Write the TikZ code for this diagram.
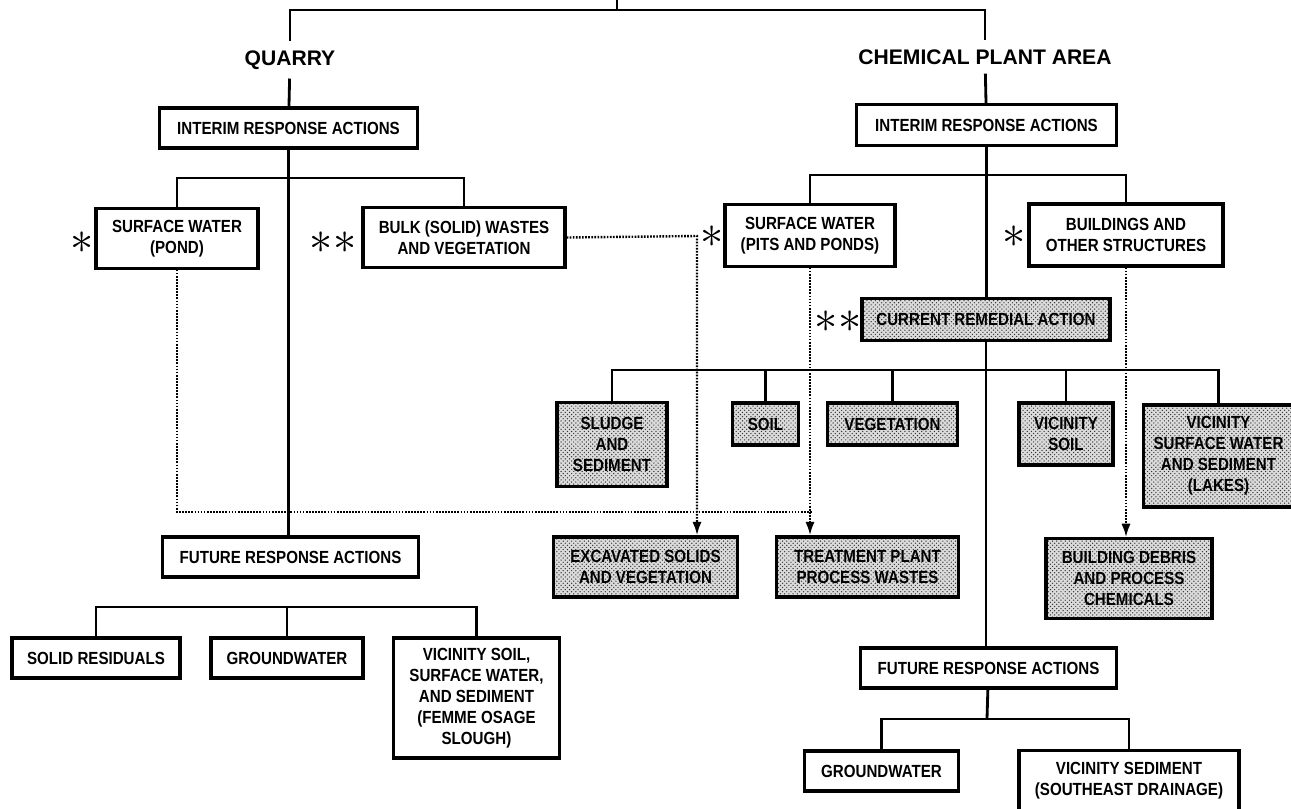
\documentclass[tikz,border=0pt]{standalone}
\usepackage{fontspec}
\setmainfont{Liberation Sans}[FakeStretch=0.86]
\newfontfamily\titlefont{Liberation Sans}
\usetikzlibrary{arrows.meta,positioning,patterns}

\begin{document}
\begin{tikzpicture}[
x=0.025cm, y=-0.025cm,
box/.style={draw, line width=2.2pt, align=center, inner sep=0pt, font=\bfseries\fontsize{12.5}{15}\selectfont},
shadebox/.style={box, preaction={fill=black!14}, pattern=crosshatch dots, pattern color=black!80},
head/.style={font=\titlefont\bfseries\fontsize{15}{18}\selectfont, inner sep=0.22cm},
star/.style={scale=3.3, inner sep=0pt},
link/.style={line width=2pt},
flow/.style={line width=1.7pt, dash pattern=on 1.2pt off 1pt, -{Latex[length=3.4mm,width=2.3mm]}}
]
\useasboundingbox (0,0) rectangle (1291,809);

% site headings
\node[head] (qtitle) at (290,60) {QUARRY};
\node[head] (ctitle) at (985,57) {CHEMICAL PLANT AREA};
\coordinate (bar) at (617,10);
\coordinate (topend) at (617,-5);

% quarry
\node[box, minimum width=6.43cm, minimum height=1cm] (qira) at (288.5,128) {INTERIM RESPONSE ACTIONS};
\node[box, minimum width=4.05cm, minimum height=1.48cm] (qsw) at (177,238.5) {SURFACE WATER\\(POND)};
\node[box, minimum width=5.05cm, minimum height=1.48cm] (qbulk) at (464,237.5) {BULK (SOLID) WASTES\\AND VEGETATION};
\node[star] (qswstar) at (82,243) {$\ast$};
\node[star] (qbulkstar) at (333,243) {$\ast\ast$};
\node[box, minimum width=6.38cm, minimum height=1cm] (qfra) at (290.5,557) {FUTURE RESPONSE ACTIONS};
\node[box, minimum width=4.2cm, minimum height=1cm] (qsolid) at (96,658) {SOLID RESIDUALS};
\node[box, minimum width=3.8cm, minimum height=1cm] (qgw) at (287,658) {GROUNDWATER};
\node[box, minimum width=4.13cm, minimum height=3cm] (qvic) at (476.5,698) {VICINITY SOIL,\\SURFACE WATER,\\AND SEDIMENT\\(FEMME OSAGE\\SLOUGH)};
\coordinate (qjoin) at (288,178);
\coordinate (qjoin2) at (289,607);

% chemical plant area
\node[box, minimum width=6.48cm, minimum height=1.03cm] (cira) at (986.5,125) {INTERIM RESPONSE ACTIONS};
\node[box, minimum width=4.25cm, minimum height=1.53cm] (csw) at (810,235.5) {SURFACE WATER\\(PITS AND PONDS)};
\node[box, minimum width=4.85cm, minimum height=1.55cm] (cbld) at (1126,235) {BUILDINGS AND\\OTHER STRUCTURES};
\node[star] (cswstar) at (712,237) {$\ast$};
\node[star] (cbldstar) at (1014,237) {$\ast$};
\node[shadebox, minimum width=6.2cm, minimum height=1.03cm] (ccra) at (986,319.5) {CURRENT REMEDIAL ACTION};
\node[star] (ccrastar) at (838,322) {$\ast\ast$};
\node[shadebox, minimum width=2.75cm, minimum height=2.08cm] (sludge) at (612,444.5) {SLUDGE\\AND\\SEDIMENT};
\node[shadebox, minimum width=1.63cm, minimum height=1.05cm] (soil) at (765.5,424) {SOIL};
\node[shadebox, minimum width=3.23cm, minimum height=1.05cm] (veg) at (892.5,424) {VEGETATION};
\node[shadebox, minimum width=2.35cm, minimum height=1.55cm] (vsoil) at (1066,434) {VICINITY\\SOIL};
\node[shadebox, minimum width=3.73cm, minimum height=2.55cm] (vsw) at (1218.5,456) {VICINITY\\SURFACE WATER\\AND SEDIMENT\\(LAKES)};
\node[shadebox, minimum width=4.58cm, minimum height=1.5cm] (excav) at (645.5,567) {EXCAVATED SOLIDS\\AND VEGETATION};
\node[shadebox, minimum width=4.53cm, minimum height=1.5cm] (treat) at (867.5,567) {TREATMENT PLANT\\PROCESS WASTES};
\node[shadebox, minimum width=4.15cm, minimum height=1.98cm] (debris) at (1129,578.5) {BUILDING DEBRIS\\AND PROCESS\\CHEMICALS};
\node[box, minimum width=6.38cm, minimum height=1cm] (cfra) at (988.5,668) {FUTURE RESPONSE ACTIONS};
\node[box, minimum width=3.83cm, minimum height=1cm] (cgw) at (881.5,771) {GROUNDWATER};
\node[box, minimum width=5.5cm, minimum height=1.48cm] (cvsed) at (1129,780.5) {VICINITY SEDIMENT\\(SOUTHEAST DRAINAGE)};
\coordinate (cjoin) at (986,175);
\coordinate (cjoin2) at (986,370);
\coordinate (cjoin3) at (987,719);
\coordinate (bend) at (697,236);
\coordinate (merge) at (812,512);

% solid connectors
\draw[link] (topend) -- (bar);
\draw[link] (qtitle) -- (qtitle |- bar) -- (ctitle |- bar) -- (ctitle);
\draw[link] (qtitle) -- (qira);
\draw[link] (ctitle) -- (cira);
\draw[link] (qira.south) -- (qira.south |- qfra.north);
\draw[link] (qsw) |- (qjoin) -| (qbulk);
\draw[link] (qsolid) |- (qjoin2) -| (qvic);
\draw[link] (qgw) -- (qgw |- qjoin2);
\draw[link] (cira.south) -- (cira.south |- ccra.north);
\draw[link] (csw) |- (cjoin) -| (cbld);
\draw[link] (ccra.south) -- (ccra.south |- cfra.north);
\draw[link] (sludge) |- (cjoin2) -| (vsw);
\draw[link] (soil) -- (soil |- cjoin2);
\draw[link] (veg) -- (veg |- cjoin2);
\draw[link] (vsoil) -- (vsoil |- cjoin2);
\draw[link] (cgw) |- (cjoin3) -| (cvsed);
\draw[link] (cfra) -- (cjoin3);

% dotted flows
\draw[flow] (qbulk.east) -- (bend) -- (bend |- excav.north);
\draw[flow] (csw.south) -- (csw.south |- treat.north);
\draw[flow] (cbld.south) -- (cbld.south |- debris.north);
\draw[flow, -] (qsw.south) -- (qsw.south |- merge) -- (merge);
\end{tikzpicture}
\end{document}
